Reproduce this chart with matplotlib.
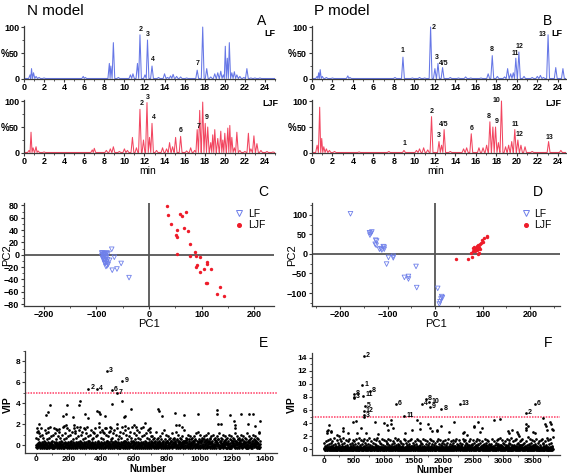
import numpy as np
import matplotlib
matplotlib.use('Agg')
import matplotlib.pyplot as plt
from matplotlib.ticker import MultipleLocator
from matplotlib.lines import Line2D

plt.rcParams['font.family'] = ['Liberation Sans', 'DejaVu Sans']

# ---------------- chromatogram data (retention time min, relative %) ----------------
n_lf_t = [0.6, 0.75, 0.95, 1.2, 1.5, 2.0, 3.5, 5.9, 6.1, 8.5, 8.65, 8.9, 9.4, 10.6, 10.85, 11.3, 11.55,
          12.05, 12.3, 12.75, 13.4, 14.0, 14.3, 14.6, 14.85, 15.2, 15.6, 16.2, 17.25, 17.8, 18.2, 18.6,
          19.0, 19.3, 19.6, 19.85, 20.05, 20.25, 20.45, 20.7, 20.95, 21.2, 21.5, 21.9, 22.2, 22.6, 23.0,
          23.5, 24.5]
n_lf_y = [8, 20, 12, 5, 3, 2, 1, 5, 3, 30, 25, 70, 3, 8, 10, 30, 85, 8, 75, 25, 3, 10, 3, 6, 9, 5, 4, 2,
          17, 100, 20, 4, 10, 12, 15, 8, 63, 40, 70, 12, 14, 8, 5, 3, 20, 2, 2, 2, 1]
n_ljf_t = [0.5, 0.7, 0.9, 1.2, 1.4, 2.0, 5.0, 6.8, 7.0, 8.2, 8.6, 8.9, 9.5, 10.0, 10.3, 10.8, 11.2,
           11.55, 11.9, 12.25, 12.5, 12.75, 13.2, 13.8, 14.2, 14.5, 14.8, 15.1, 15.6, 16.2, 16.6, 17.0,
           17.25, 17.5, 17.8, 18.05, 18.3, 18.6, 18.8, 19.0, 19.3, 19.6, 19.8, 20.0, 20.3, 20.5, 20.7,
           20.95, 21.2, 21.5, 22.0, 22.35, 22.6, 22.9, 23.2, 23.6, 24.2, 24.8]
n_ljf_y = [5, 40, 10, 12, 4, 2, 1, 6, 9, 5, 8, 12, 3, 8, 5, 30, 10, 84, 25, 97, 30, 57, 5, 10, 8, 20,
           12, 30, 32, 4, 10, 5, 45, 82, 98, 57, 50, 20, 35, 45, 28, 42, 25, 38, 48, 53, 30, 10, 40, 5,
           3, 38, 8, 33, 18, 5, 3, 2]
p_lf_t = [0.5, 0.65, 0.8, 1.0, 1.4, 2.0, 3.5, 3.7, 6.0, 8.1, 8.88, 9.8, 10.5, 11.0, 11.58, 12.0, 12.3,
          12.75, 13.5, 14.3, 15.0, 15.5, 16.5, 17.2, 17.6, 18.1, 18.8, 19.1, 19.4, 19.65, 19.9, 20.2,
          20.7, 21.5, 22.0, 22.3, 22.6, 23.05, 23.8, 24.5]
p_lf_y = [5, 12, 18, 5, 3, 2, 6, 3, 1, 3, 42, 2, 3, 2, 100, 20, 30, 22, 3, 2, 4, 2, 2, 10, 45, 5, 4, 20,
          10, 12, 40, 52, 5, 3, 5, 7, 3, 85, 22, 20]
p_ljf_t = [0.5, 0.75, 0.95, 1.15, 1.4, 1.7, 2.2, 4.6, 7.5, 8.98, 10.2, 10.5, 10.9, 11.3, 11.67, 12.4,
           12.65, 12.9, 13.5, 14.8, 15.1, 15.55, 16.3, 16.7, 17.05, 17.37, 17.66, 17.92, 18.2, 18.5,
           18.9, 19.2, 19.5, 19.8, 20.1, 20.4, 20.8, 21.5, 23.1, 24.3]
p_ljf_y = [15, 88, 28, 12, 8, 5, 3, 2, 3, 5, 5, 8, 10, 6, 70, 22, 15, 45, 3, 8, 10, 37, 10, 10, 15, 60,
           50, 50, 20, 100, 12, 15, 22, 45, 25, 15, 12, 3, 22, 5]

# peak annotations (time, %, label)
n_lf_lab = [(11.6, 88, '2'), (12.35, 78, '3'), (12.85, 31, '4'), (17.3, 23, '7')]
n_ljf_lab = [(11.7, 89, '2'), (12.3, 100, '3'), (12.9, 62, '4'), (15.6, 36, '6'), (17.35, 45, '7'),
             (18.2, 61, '9')]
p_lf_lab = [(8.88, 48, '1'), (11.9, 93, '2'), (12.2, 34, '3'), (12.85, 23, '4/5'), (17.56, 50, '8'),
            (19.8, 42, '11'), (20.25, 55, '12'), (22.5, 79, '13')]
p_ljf_lab = [(9.0, 12, '1'), (11.7, 74, '2'), (12.4, 26, '3'), (12.85, 48, '4/5'), (15.55, 40, '6'),
             (17.3, 64, '8'), (18.05, 53, '9'), (18.05, 95, '10'), (19.85, 48, '11'), (20.3, 28, '12'),
             (23.2, 23, '13')]

# ---------------- PCA scores ----------------
n_pca_lf = [(-88, 3), (-85, 2), (-82, 2), (-80, 3), (-78, 2), (-90, -2), (-87, -5), (-85, -8), (-83, -10),
            (-80, -12), (-78, -16), (-80, -18), (-75, -9), (-71, 9), (-66, -4), (-70, -25), (-61, -23),
            (-53, -14), (-38, -37), (-85, -12), (-82, -5), (-86, 0), (-84, -3), (-79, -8), (-88, -6),
            (-83, -1), (-81, -4), (-89, 1), (-86, -9), (-82, -19), (-84, -14), (-90, 3)]
n_pca_ljf = [(33.7, 78.5), (35.6, 64), (42.5, 50), (53.3, 41), (52, 31.7), (54, 29), (59.7, 65.6),
             (63.5, 62.4), (70.5, 70), (67, 44), (74, 38.7), (78.7, 17), (52.7, 1.6), (87, 5), (79, -2.7),
             (89.5, -1.6), (96.5, -4.3), (91, -16.5), (89.5, -20), (97, -28), (105.4, -23.5), (111, -12),
             (111, -15), (118, -23), (109, -45), (111, -46), (135, -53), (129, -63.5), (143.5, -67)]
p_pca_lf = [(-178, 102.5), (-138, 54), (-135, 52.5), (-133, 56), (-137, 48), (-125, 35), (-123, 33),
            (-126, 24.6), (-124, 22), (-117, 12), (-114, 13.5), (-112, 10), (-109, 18.6), (-107, 17),
            (-107, 12), (-98, -9), (-88, -6), (-88, -10), (-102, -26), (-64.5, -60), (-56, -57.6),
            (-56, -64), (-40, -32), (-38.6, -86), (5.6, -88), (14, -109), (12.6, -115), (10.5, -122),
            (9, -128), (15.4, -112)]
p_pca_ljf = [(44, -12), (70, -13.6), (78.6, -9), (75, 1.7), (80.7, 7.6), (82, 18.6), (84, 13.5),
             (87.7, 20), (89.8, 22), (93, 18.6), (92, 3.4), (94.7, 24.6), (96.8, 28.8), (98, 35.6),
             (103, 39.8), (109, 43), (110, 45.7), (84, 7.6), (87.7, 10), (91, 11.9), (94.7, 13.5),
             (80, 14), (86, 16), (100, 30), (90, 0)]

# ---------------- VIP values ----------------
# dense low band, one digit per variable (VIP = -0.3 + 0.1*digit)
e_band = ("31402531642035124603152430261405320416253041326150"
          "24031620541362405132046213504126340215036241530426"
          "15032641053214620435102643152043612540326105432164"
          "03524160342517036241053426103524160432051364201534"
          "42061352403615240361527043162504317205432615042361"
          "30521463025140362514036251407326150423615024371526"
          "14302653140256031426504132605241360524130462513042"
          "51360241530462153026415320461253041625304126350421"
          "26041352607153240615327041562394156230418263051426"
          "03415623041752630815263041925304162530471526304812"
          "41320564172630815273041926304158203641726504152630"
          "52130418263047526394102630715243041526384150630415"
          "30415203081526374152730415063941520638415283041526"
          "41526304102630815263041520374152638415260415203041")
# sparser cloud above the band (VIP = 0.4 + 0.15*digit)
e_cloud = ("261538420751629304851736204915283740618529370461825"
           "930471625834096271584036912570481362950741836290514"
           "726183940527163"
           "031206120315071403120512061402130702140312031506"
           "140213041502130412031502140312041302150312041302150"
           "312041302150")
e_extra = [(8, 1.6), (10, 1.4), (20, 2.0), (61, 2.9), (71, 3.2), (86, 3.8), (75, 1.67), (163, 2.77),
           (181, 2.95), (191, 3.83), (228, 2.7), (265, 3.86), (269, 4.2), (299, 3.0), (320, 2.6),
           (375, 3.3), (387, 3.16), (391, 2.95), (387, 2.1), (422, 2.77), (462, 3.95), (528, 4.26),
           (538, 2.7), (544, 2.75), (580, 3.5), (497, 2.0), (542, 1.8), (601, 1.9), (610, 1.7),
           (666, 2.1), (692, 1.5), (743, 3.46), (750, 3.3), (768, 2.77), (849, 3.08), (906, 2.86),
           (988, 3.0), (1104, 3.37), (1108, 3.0), (1110, 2.05), (1130, 2.0), (1185, 2.86), (1212, 2.3),
           (1214, 1.9), (1216, 1.6), (1252, 3.0), (1297, 2.0), (1301, 2.95), (1328, 2.95), (1340, 1.8),
           (1362, 1.3), (1369, 2.3), (697, 1.6), (853, 1.9), (874, 1.9), (895, 1.7), (174, 1.8),
           (184, 1.9), (125, 1.5), (140, 1.5), (410, 1.3), (430, 1.6), (450, 1.4), (460, 1.6),
           (230, 1.9), (240, 1.4), (270, 1.75), (300, 1.55)]
e_marked = [(320, 5.4, '2'), (375, 5.36, '4'), (432, 7.1, '3'), (462, 5.26, '6'), (493, 4.96, '7'),
            (528, 6.15, '9')]

# VIP = -0.2 + 0.1*digit
f_band = ("24130526314025316420351246031524302614053204162530"
          "41326150240316205413624051320462135041263402150362"
          "41530426150326410532146204351026431520436125403261"
          "05432164035241603425170362410534261035241604320513"
          "64201534420613524036152403615270431625043172054326"
          "15042361305214630251403625140362514073261504236150"
          "24371526143026531402560314265041326052413605241304"
          "62513042513602415304621530264153204612530416253041"
          "26350421260413526071532406153270415623941562304182"
          "63051426034156230417526308152630419253041625304715"
          "26304812413205641726308152730419263041582036417265"
          "04152630521304182630475263941026307152430415263841"
          "50630415304152030815263741527304150639415206384152"
          "83041526415263041026308152630415203741526384152604"
          "15203041260351420631540263152046130524163025140362")
# VIP = 0.5 + 0.17*digit
f_cloud = ("30415263041720531640273051462035142603715240631527"
           "14036251704326150423615024371526143026531402560314"
           "26504132605241360524130462513042513602415304621530"
           "26415320461253041625304126350421260413526071532406"
           "15327041562394156230418263051426034156230417526308")
f_extra = [(45, 2.5), (55, 2.8), (62, 3.0), (79, 3.7), (112, 2.8), (118, 2.6), (318, 3.23), (312, 2.8),
           (400, 2.4), (486, 4.2), (530, 4.35), (560, 2.5), (626, 3.2), (850, 4.1), (1005, 3.98),
           (1060, 3.7), (1117, 4.4), (1080, 3.0), (1130, 3.9), (1150, 3.2), (1480, 2.9), (1564, 4.4),
           (1600, 4.0), (1610, 3.1), (1742, 3.9), (1780, 3.3), (1810, 2.8), (1890, 2.8), (1900, 3.0),
           (1966, 3.5), (2172, 4.2), (2330, 2.5), (2340, 2.7), (2512, 3.6), (2520, 3.4), (2580, 4.1),
           (2620, 2.7), (2650, 3.3), (2842, 4.5), (2955, 4.6), (3080, 2.8), (3100, 2.5), (3233, 2.6),
           (3150, 2.9), (3384, 3.9), (3386, 3.3), (3390, 3.0), (3420, 3.6), (3668, 4.72), (3700, 3.9),
           (3720, 3.6), (3740, 3.0), (3790, 4.1), (3800, 3.8), (3826, 3.1), (3830, 2.9), (3500, 2.6),
           (3540, 2.4), (503, 7.95), (672, 5.3), (3250, 2.3), (2400, 2.2), (2100, 2.6), (1350, 2.4),
           (900, 2.3), (700, 2.5), (220, 2.2), (250, 2.0)]
f_marked = [(670, 14.26, '2'), (637, 9.8, '1'), (766, 8.94, '8'), (503, 8.45, '8'), (500, 7.9, '3'),
            (654, 8.2, '11'), (682, 6.56, '5'), (670, 5.8, '12'), (672, 5.0, '3'), (1201, 6.86, '6'),
            (1340, 5.07, '11'), (1642, 6.86, '4'), (1704, 7.7, '8'), (1760, 7.2, '10'), (1771, 6.46, '9'),
            (1966, 6.2, '8'), (2273, 6.96, '13'), (3378, 5.47, '2'), (3529, 6.86, '6')]

e_nvars = 1369
f_nvars = 3830
vip_cut = 5.0

# ---------------- styling ----------------
BLUE = '#6677e6'
RED = '#f24660'
PTBLUE = '#6f80ea'
PTRED = '#ee1c2a'
AXC = '#3a3a3a'
W, H = 567, 474
PEAK_HALF_WIDTH = 0.14

fig = plt.figure(figsize=(5.67, 4.74), dpi=100)


def add_ax(l, t, r, b, lsize=6.5):
    ax = fig.add_axes([l / W, 1 - b / H, (r - l) / W, (b - t) / H])
    for s in ('top', 'right'):
        ax.spines[s].set_visible(False)
    for s in ('left', 'bottom'):
        ax.spines[s].set_color(AXC)
        ax.spines[s].set_linewidth(0.9)
    ax.tick_params(which='major', length=2.5, width=0.8, labelsize=lsize, pad=1.0, color=AXC)
    ax.tick_params(which='minor', length=1.5, width=0.6, color=AXC)
    return ax


def bold_ticks(ax):
    for lab in ax.get_xticklabels() + ax.get_yticklabels():
        lab.set_fontweight('bold')


def ftext(x, y, s, **kw):
    fig.text(x / W, 1 - y / H, s, ha='center', va='center', **kw)


def peak_path(ts, ys, xmax, w):
    xs, yy = [0.0], [1.0]
    n = len(ts)
    for i, (tt, h) in enumerate(zip(ts, ys)):
        lo = tt - w if i == 0 else max(tt - w, 0.5 * (ts[i - 1] + tt))
        hi = tt + w if i == n - 1 else min(tt + w, 0.5 * (ts[i + 1] + tt))
        xs += [lo, tt, hi]
        yy += [1.0, h, 1.0]
    xs.append(xmax)
    yy.append(1.0)
    return xs, yy


def chrom(l, t, r, b, xmax, ts, ys, labs, color):
    ax = add_ax(l, t, r, b)
    ax.tick_params(axis='x', which='major', pad=0.5, length=2.2)
    xs, yy = peak_path(ts, ys, xmax, PEAK_HALF_WIDTH)
    ax.plot(xs, yy, color=color, lw=0.75)
    for tt, h, s in labs:
        ax.text(tt, h, s, ha='center', va='bottom', fontsize=5, fontweight='bold', color='#111')
    ax.set_xlim(0, xmax)
    ax.set_ylim(0, 102)
    ax.xaxis.set_major_locator(MultipleLocator(2))
    ax.xaxis.set_minor_locator(MultipleLocator(1))
    ax.yaxis.set_major_locator(MultipleLocator(50))
    ax.yaxis.set_minor_locator(MultipleLocator(25))
    bold_ticks(ax)
    return ax


# ---- A / B chromatograms
chrom(24, 26, 275, 79, 25, n_lf_t, n_lf_y, n_lf_lab, BLUE)
chrom(24, 100, 275, 153, 25, n_ljf_t, n_ljf_y, n_ljf_lab, RED)
chrom(312, 26, 566, 79, 24.8, p_lf_t, p_lf_y, p_lf_lab, BLUE)
chrom(312, 100, 566, 153, 24.8, p_ljf_t, p_ljf_y, p_ljf_lab, RED)

ftext(55, 11, 'N model', fontsize=11)
ftext(342, 11, 'P model', fontsize=11)
for x, y, s in [(262, 21, 'A'), (548, 21, 'B'), (263, 192, 'C'), (538, 192, 'D'), (263, 343, 'E'),
                (548, 343, 'F')]:
    ftext(x, y, s, fontsize=10)
for x, y, s in [(270, 34, 'LF'), (270, 104, 'LJF'), (557, 33, 'LF'), (553, 104, 'LJF')]:
    ftext(x, y, s, fontsize=6.5, fontweight='bold')
for x, y in [(5, 54), (5, 128), (292, 54), (292, 128)]:
    ftext(x, y, '%', fontsize=7, fontweight='bold')
ftext(148, 171, 'min', fontsize=7.5)
ftext(436, 171, 'min', fontsize=7.5)


# ---- C / D PCA score plots
def pca(l, t, r, b, lf, ljf, xlim, ylim, ymaj, ymin):
    ax = add_ax(l, t, r, b)
    ax.tick_params(axis='x', pad=0.5)
    ax.axhline(0, color='#555555', lw=1.3, zorder=1)
    ax.axvline(0, color='#555555', lw=1.3, zorder=1)
    lf = np.array(lf)
    lj = np.array(ljf)
    ax.scatter(lf[:, 0], lf[:, 1], marker='v', s=11, facecolors='none', edgecolors=PTBLUE,
               linewidths=0.6, zorder=3, label='LF')
    ax.scatter(lj[:, 0], lj[:, 1], marker='o', s=6, color=PTRED, linewidths=0, zorder=3, label='LJF')
    ax.set_xlim(*xlim)
    ax.set_ylim(*ylim)
    ax.xaxis.set_major_locator(MultipleLocator(100))
    ax.xaxis.set_minor_locator(MultipleLocator(50))
    ax.yaxis.set_major_locator(MultipleLocator(ymaj))
    ax.yaxis.set_minor_locator(MultipleLocator(ymin))
    bold_ticks(ax)
    handles = [Line2D([], [], marker='v', ls='', mfc='none', mec=PTBLUE, ms=4, mew=0.7),
               Line2D([], [], marker='o', ls='', color=PTRED, ms=2.6)]
    ax.legend(handles, ['LF', 'LJF'], loc='upper left', bbox_to_anchor=(0.845, 0.945), frameon=False,
              fontsize=7.5, handlelength=0.8, handletextpad=0.4, labelspacing=0.15, borderpad=0,
              borderaxespad=0)
    return ax


pca(24, 203, 274, 306, n_pca_lf, n_pca_ljf, (-238, 238), (-83, 84), 20, 10)
pca(312, 203, 560, 306, p_pca_lf, p_pca_ljf, (-259, 263), (-133, 130), 50, 25)
ftext(149, 324, 'PC1', fontsize=8)
ftext(436, 324, 'PC1', fontsize=8)
ftext(7, 255, 'PC2', fontsize=8, rotation=90)
ftext(292, 255, 'PC2', fontsize=8, rotation=90)


# ---- E / F VIP plots
def vip(l, t, r, b, nvars, band, b0, b1, cloud, c0, c1, extra, marked, xlim, ylim, xmaj, xmin):
    ax = add_ax(l, t, r, b, lsize=6)
    ax.tick_params(axis='x', which='major', pad=0.3, length=2)
    ax.tick_params(axis='x', which='minor', length=1.2)
    bv = np.array([int(c) for c in band], float) * b1 + b0
    cv = np.array([int(c) for c in cloud], float) * c1 + c0
    bx = np.linspace(1, nvars, len(bv))
    cx = np.linspace(3, nvars - 2, len(cv))
    ex = np.array(extra)
    mk = np.array([(m[0], m[1]) for m in marked])
    kw = dict(s=3.8, color='black', linewidths=0, zorder=3)
    ax.scatter(bx, bv, **kw)
    ax.scatter(cx, cv, **kw)
    ax.scatter(ex[:, 0], ex[:, 1], **kw)
    ax.scatter(mk[:, 0], mk[:, 1], **kw)
    for xm, ym, s in marked:
        ax.annotate(s, (xm, ym), xytext=(1.5, 0.5), textcoords='offset points', fontsize=5,
                    fontweight='bold', va='center', ha='left')
    ax.axhline(vip_cut, color='#ff3c64', lw=1.1, ls=(0, (1, 0.8)), zorder=2)
    ax.set_xlim(*xlim)
    ax.set_ylim(*ylim)
    ax.xaxis.set_major_locator(MultipleLocator(xmaj))
    ax.xaxis.set_minor_locator(MultipleLocator(xmin))
    ax.yaxis.set_major_locator(MultipleLocator(2))
    ax.yaxis.set_minor_locator(MultipleLocator(1))
    bold_ticks(ax)
    return ax


vip(25, 351, 277, 453, e_nvars, e_band, -0.3, 0.1, e_cloud, 0.4, 0.15, e_extra, e_marked,
    (-67, 1473), (-0.75, 9.0), 200, 100)
vip(312, 353, 560, 455, f_nvars, f_band, -0.2, 0.1, f_cloud, 0.5, 0.17, f_extra, f_marked,
    (-200, 3952), (-0.9, 14.75), 500, 250)
ftext(148, 469, 'Number', fontsize=7, fontweight='bold')
ftext(435, 470, 'Number', fontsize=7, fontweight='bold')
ftext(8, 405, 'VIP', fontsize=7.5, fontweight='bold', rotation=90)
ftext(292, 405, 'VIP', fontsize=7.5, fontweight='bold', rotation=90)

fig.savefig('out.png', dpi=100)
